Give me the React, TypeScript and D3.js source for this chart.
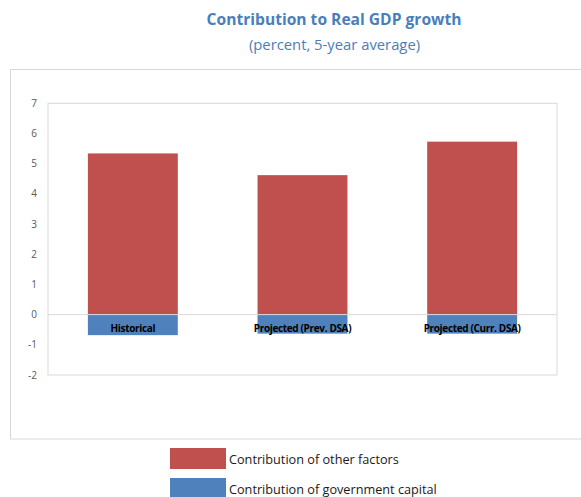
import * as d3 from "d3";

const categories = ["Historical", "Projected (Prev. DSA)", "Projected (Curr. DSA)"];
const otherFactors = [5.34, 4.62, 5.73];
const governmentCapital = [-0.68, -0.63, -0.63];
const yTicks = [-2, -1, 0, 1, 2, 3, 4, 5, 6, 7];
const seriesNames = ["Contribution of other factors", "Contribution of government capital"];
const seriesColors = ["#C0504D", "#4F81BD"];

const FONT = "'Open Sans', 'Noto Sans', sans-serif";
const TITLE_COLOR = "#4A7EBB";

export default function App() {
  const width = 581;
  const height = 497;
  const plot = { left: 48, right: 557, top: 103.3, bottom: 375 };

  const x = d3
    .scaleBand()
    .domain(categories)
    .range([plot.left, plot.right])
    .paddingInner(0.47)
    .paddingOuter(0.235);

  const y = d3.scaleLinear().domain([-2, 7]).range([plot.bottom, plot.top]);

  return (
    <div style={{ position: "absolute", left: 0, top: 0 }}>
      <svg width={width} height={height} fontFamily={FONT}>
        <rect width={width} height={height} fill="#fff" />
        <text x={334} y={25} textAnchor="middle" fontSize={15.6} fontWeight="bold" fill={TITLE_COLOR}>
          Contribution to Real GDP growth
        </text>
        <text x={334.5} y={50} textAnchor="middle" fontSize={14.8} fill={TITLE_COLOR}>
          (percent, 5-year average)
        </text>

        {/* outer chart frame, cut off on the right */}
        <rect x={10.5} y={69.5} width={600} height={369.5} fill="none" stroke="#d9d9d9" strokeWidth={1} />

        {/* plot area */}
        <rect
          x={plot.left}
          y={plot.top}
          width={plot.right - plot.left}
          height={plot.bottom - plot.top}
          fill="none"
          stroke="#d9d9d9"
          strokeWidth={1}
        />

        {yTicks.map((t) => (
          <text key={t} x={37} y={y(t)} dy="0.35em" textAnchor="end" fontSize={10} fill="#595959">
            {t}
          </text>
        ))}

        {categories.map((c, i) => (
          <g key={c}>
            <rect
              x={x(c)}
              y={y(otherFactors[i])}
              width={x.bandwidth()}
              height={y(0) - y(otherFactors[i])}
              fill={seriesColors[0]}
            />
            <rect
              x={x(c)}
              y={y(0)}
              width={x.bandwidth()}
              height={y(governmentCapital[i]) - y(0)}
              fill={seriesColors[1]}
            />
          </g>
        ))}

        <line x1={plot.left} x2={plot.right} y1={y(0)} y2={y(0)} stroke="#d9d9d9" strokeWidth={1} />

        {categories.map((c) => (
          <text
            key={c}
            x={(x(c) ?? 0) + x.bandwidth() / 2}
            y={331.5}
            textAnchor="middle"
            fontSize={10}
            fontWeight="bold"
            fill="#000"
            letterSpacing={-0.35}
          >
            {c}
          </text>
        ))}

        {seriesNames.map((name, i) => (
          <g key={name} transform={`translate(170,${448 + i * 30})`}>
            <rect width={56} height={21} fill={seriesColors[i]} />
            <text x={59} y={16} fontSize={12.7} fill="#1a1a1a">
              {name}
            </text>
          </g>
        ))}
      </svg>
    </div>
  );
}
